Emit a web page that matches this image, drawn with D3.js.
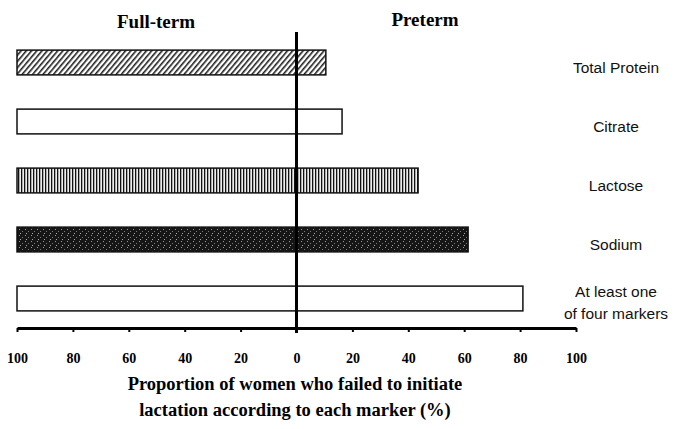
<!DOCTYPE html>
<html>
<head>
<meta charset="utf-8">
<script src="https://cdn.jsdelivr.net/npm/d3@7"></script>
<style>
  body { margin: 0; background: #fff; }
  svg { display: block; }
</style>
</head>
<body>
<div id="chart-area"></div>
<script>
var width = 674;
var height = 429;

// Data
var markers = ["Total Protein", "Citrate", "Lactose", "Sodium", "At least one|of four markers"];
var fullTerm = [100, 100, 100, 100, 100];
var preterm = [10.5, 16.3, 43.5, 61.4, 81];
var tickValues = [-100, -80, -60, -40, -20, 0, 20, 40, 60, 80, 100];
var fills = ["url(#hatch)", "#fff", "url(#stripes)", "url(#speckle)", "#fff"];

var svg = d3.select("#chart-area")
  .append("svg")
    .attr("width", width)
    .attr("height", height);

//Patterns
var defs = svg.append("defs");

var hatch = defs.append("pattern")
  .attr("id", "hatch")
  .attr("patternUnits", "userSpaceOnUse")
  .attr("width", 4)
  .attr("height", 4)
  .attr("patternTransform", "rotate(40)");
hatch.append("rect").attr("width", 4).attr("height", 4).attr("fill", "#fff");
hatch.append("line")
  .attr("x1", 0.8).attr("y1", 0).attr("x2", 0.8).attr("y2", 4)
  .attr("stroke", "#111").attr("stroke-width", 1.5);

var stripes = defs.append("pattern")
  .attr("id", "stripes")
  .attr("patternUnits", "userSpaceOnUse")
  .attr("width", 3)
  .attr("height", 4);
stripes.append("rect").attr("width", 3).attr("height", 4).attr("fill", "#eee");
stripes.append("rect").attr("width", 1.3).attr("height", 4).attr("fill", "#111");

var speckle = defs.append("pattern")
  .attr("id", "speckle")
  .attr("patternUnits", "userSpaceOnUse")
  .attr("width", 6)
  .attr("height", 6);
speckle.append("rect").attr("width", 6).attr("height", 6).attr("fill", "#161616");
speckle.append("rect").attr("x", 1).attr("y", 1).attr("width", 1).attr("height", 1).attr("fill", "#999");
speckle.append("rect").attr("x", 4).attr("y", 3).attr("width", 1).attr("height", 1).attr("fill", "#777");
speckle.append("rect").attr("x", 2).attr("y", 5).attr("width", 1).attr("height", 1).attr("fill", "#aaa");

//Scales
var x = d3.scaleLinear()
  .domain([-100, 100])
  .range([17, 576]);

var y = d3.scaleBand()
  .domain(markers)
  .range([33, 328])
  .paddingInner(0.58)
  .paddingOuter(0.29);

//Bars
svg.selectAll("rect.bar")
  .data(markers)
  .enter().append("rect")
    .attr("class", "bar")
    .attr("x", (d, i) => x(-fullTerm[i]))
    .attr("y", d => y(d))
    .attr("width", (d, i) => x(preterm[i]) - x(-fullTerm[i]))
    .attr("height", y.bandwidth())
    .attr("fill", (d, i) => fills[i])
    .attr("stroke", "#111")
    .attr("stroke-width", 1.5);

//Center line
svg.append("line")
  .attr("x1", x(0)).attr("x2", x(0))
  .attr("y1", 32).attr("y2", 333)
  .attr("stroke", "#000")
  .attr("stroke-width", 3);

//Axis
var xAxisCall = d3.axisBottom(x)
  .tickValues(tickValues)
  .tickSize(4)
  .tickSizeOuter(0)
  .tickFormat(d => Math.abs(d));

var xAxisGroup = svg.append("g")
  .attr("transform", "translate(0, 328)")
  .call(xAxisCall);

xAxisGroup.select(".domain")
  .attr("stroke", "#000")
  .attr("stroke-width", 3);
xAxisGroup.selectAll(".tick line")
  .attr("stroke", "#000")
  .attr("stroke-width", 2);
xAxisGroup.selectAll(".tick text")
  .attr("y", 25)
  .style("font-family", "'Liberation Serif', serif")
  .style("font-weight", "bold")
  .style("font-size", "14px")
  .attr("fill", "#000");

//Labels
svg.append("text")
  .attr("x", 156)
  .attr("y", 28)
  .style("text-anchor", "middle")
  .style("font-family", "'Liberation Serif', serif")
  .style("font-weight", "bold")
  .style("font-size", "19px")
  .text("Full-term");

svg.append("text")
  .attr("x", 425)
  .attr("y", 26)
  .style("text-anchor", "middle")
  .style("font-family", "'Liberation Serif', serif")
  .style("font-weight", "bold")
  .style("font-size", "19px")
  .text("Preterm");

var title = svg.append("text")
  .attr("x", 295)
  .attr("y", 390)
  .style("text-anchor", "middle")
  .style("font-family", "'Liberation Serif', serif")
  .style("font-weight", "bold")
  .style("font-size", "18.5px");
title.append("tspan").attr("x", 295).text("Proportion of women who failed to initiate");
title.append("tspan").attr("x", 295).attr("dy", 26).text("lactation according to each marker (%)");

//Category names
markers.forEach((m, i) => {
  var lines = m.split("|");
  var t = svg.append("text")
    .attr("x", 616)
    .attr("y", y(m) + y.bandwidth() / 2 + (lines.length > 1 ? -2 : 10))
    .style("text-anchor", "middle")
    .style("font-family", "'Liberation Sans', Arial, sans-serif")
    .style("font-size", "15.5px")
    .attr("fill", "#111");
  lines.forEach((l, j) => {
    t.append("tspan").attr("x", 616).attr("dy", j === 0 ? 0 : 22).text(l);
  });
});
</script>
</body>
</html>
